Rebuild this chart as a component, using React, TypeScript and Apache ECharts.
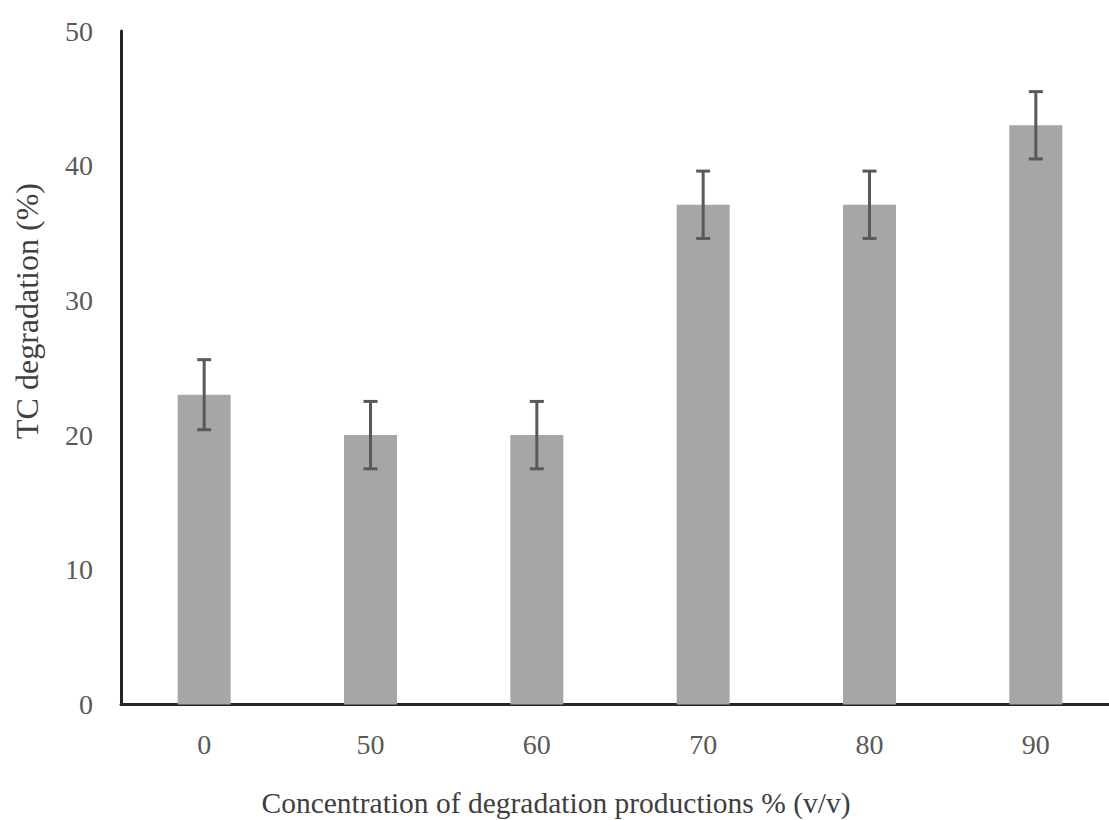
import React, { useEffect, useRef } from "react";
import * as echarts from "echarts";

const categories = ["0", "50", "60", "70", "80", "90"];
const values = [23, 20, 20, 37.1, 37.1, 43];
const errors = [2.6, 2.5, 2.5, 2.5, 2.5, 2.5];
const yTicks = [0, 10, 20, 30, 40, 50];
const xTitle = "Concentration of degradation productions % (v/v)";
const yTitle = "TC degradation (%)";

const FONT = "'Liberation Serif', 'Times New Roman', serif";

export default function App() {
  const ref = useRef<HTMLDivElement>(null);
  useEffect(() => {
    if (!ref.current) return;
    const chart = echarts.init(ref.current, undefined, { renderer: "svg" });
    const errData = values.map((v, i) => [i, v - errors[i], v + errors[i]]);
    chart.setOption({
      animation: false,
      backgroundColor: "#ffffff",
      grid: { left: 121, top: 31, width: 998, height: 673.5, containLabel: false, outerBoundsMode: "none" },
      graphic: [
        {
          type: "text",
          x: 556,
          y: 803,
          style: {
            text: xTitle,
            fontFamily: FONT,
            fontSize: 29.5,
            fill: "#404040",
            align: "center",
            verticalAlign: "middle",
          },
        },
        {
          type: "text",
          x: 27,
          y: 311,
          rotation: Math.PI / 2,
          style: {
            text: yTitle,
            fontFamily: FONT,
            fontSize: 32,
            fill: "#404040",
            align: "center",
            verticalAlign: "middle",
          },
        },
      ],
      xAxis: {
        type: "category",
        data: categories,
        boundaryGap: true,
        axisLine: { lineStyle: { color: "#262626", width: 3 } },
        axisTick: { show: false },
        axisLabel: { fontFamily: FONT, fontSize: 28, color: "#595959", margin: 26 },
      },
      yAxis: {
        type: "value",
        min: yTicks[0],
        max: yTicks[yTicks.length - 1],
        interval: 10,
        axisLine: { show: true, lineStyle: { color: "#262626", width: 3 } },
        axisTick: { show: false },
        splitLine: { show: false },
        axisLabel: { fontFamily: FONT, fontSize: 28, color: "#595959", margin: 28 },
      },
      series: [
        {
          type: "bar",
          data: values,
          barWidth: 53,
          itemStyle: { color: "#a6a6a6" },
        },
        {
          type: "custom",
          data: errData,
          z: 10,
          renderItem: (params: any, api: any) => {
            const x = api.value(0);
            const lo = api.coord([x, api.value(1)]);
            const hi = api.coord([x, api.value(2)]);
            const half = 7;
            const style = { stroke: "#595959", lineWidth: 3 };
            return {
              type: "group",
              children: [
                { type: "line", shape: { x1: lo[0], y1: lo[1], x2: hi[0], y2: hi[1] }, style },
                { type: "line", shape: { x1: lo[0] - half, y1: lo[1], x2: lo[0] + half, y2: lo[1] }, style },
                { type: "line", shape: { x1: hi[0] - half, y1: hi[1], x2: hi[0] + half, y2: hi[1] }, style },
              ],
            };
          },
        },
      ],
    });
    return () => chart.dispose();
  }, []);
  return (
    <div
      ref={ref}
      style={{ position: "absolute", left: 0, top: 0, width: 1109, height: 820 }}
    />
  );
}
